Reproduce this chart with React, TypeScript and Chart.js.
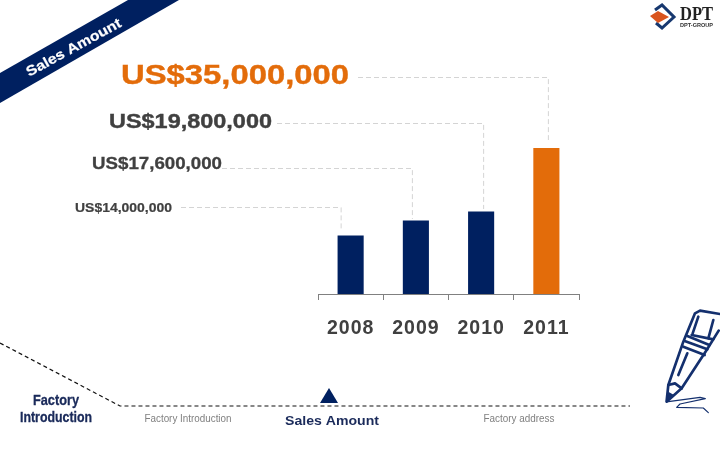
import React, { useEffect, useRef } from "react";
import { Chart, registerables } from "chart.js";

Chart.register(...registerables);

const years = ["2008", "2009", "2010", "2011"];
const salesAmounts = [14000000, 17600000, 19800000, 35000000];
const barColors = ["#002060", "#002060", "#002060", "#E36C0A"];
const bannerTitle = "Sales Amount";
const footerLabels = ["Factory Introduction", "Sales Amount", "Factory address"];
const sideTitle = ["Factory", "Introduction"];

const FONT = '"Liberation Sans", Arial, sans-serif';
const NAVY = "#002060";

type LabelStyle = { size: number; width: number; color: string; x: number; y: number; lineY: number; lineFrom: number; dx: number; lineEnd: number; heavy: number };
const labelStyles: LabelStyle[] = [
  { size: 13.5, width: 97, color: "#404040", x: 75, y: 208, lineY: 207, lineFrom: 181, dx: -9.5, lineEnd: 230, heavy: 0.2 },
  { size: 17, width: 130, color: "#404040", x: 92, y: 164.5, lineY: 168, lineFrom: 222, dx: -3.5, lineEnd: 219, heavy: 0.3 },
  { size: 20.5, width: 163, color: "#404040", x: 109, y: 122.5, lineY: 123, lineFrom: 277, dx: 2.5, lineEnd: 209, heavy: 0.4 },
  { size: 28, width: 228, color: "#E36C0A", x: 121, y: 76.5, lineY: 77, lineFrom: 358, dx: 2, lineEnd: 140, heavy: 0.4 },
];

function setSpacing(ctx: any, px: number) {
  ctx.letterSpacing = px + "px";
}

// Draws text left-aligned or centred, stretched horizontally to the measured width of the reference.
function text(ctx: any, s: string, x: number, y: number, font: string, color: string, width = 0, align = "left", heavy = 0) {
  ctx.save();
  ctx.font = font;
  ctx.fillStyle = color;
  ctx.strokeStyle = color;
  ctx.textAlign = align;
  ctx.textBaseline = "middle";
  const natural = ctx.measureText(s).width;
  ctx.translate(x, y);
  if (width > 0) ctx.scale(width / natural, 1);
  ctx.fillText(s, 0, 0);
  if (heavy > 0) {
    ctx.lineWidth = heavy;
    ctx.strokeText(s, 0, 0);
  }
  ctx.restore();
}

function poly(ctx: any, pts: number[][]) {
  ctx.beginPath();
  pts.forEach((p, i) => (i ? ctx.lineTo(p[0], p[1]) : ctx.moveTo(p[0], p[1])));
}

function drawBanner(ctx: any) {
  poly(ctx, [[0, 73], [128, 0], [179, 0], [0, 103]]);
  ctx.closePath();
  ctx.fillStyle = NAVY;
  ctx.fill();
  ctx.save();
  ctx.translate(74, 48);
  ctx.rotate(-0.5);
  text(ctx, bannerTitle, 0, 0, `bold 14px ${FONT}`, "#ffffff", 106, "center", 0.2);
  ctx.restore();
}

function drawLogo(ctx: any) {
  ctx.strokeStyle = "#17386f";
  ctx.lineWidth = 3;
  poly(ctx, [[655, 10], [662, 5], [674, 17], [662, 28], [656, 23]]);
  ctx.stroke();
  poly(ctx, [[650, 16], [658, 11], [669, 17], [658, 23]]);
  ctx.closePath();
  ctx.fillStyle = "#D9541E";
  ctx.fill();
  text(ctx, "DPT", 680, 15, `bold 19px "Liberation Serif", serif`, "#222222", 33);
  text(ctx, "DPT-GROUP", 680, 26, `bold 5px ${FONT}`, "#333333", 33);
}

function drawPen(ctx: any) {
  ctx.save();
  ctx.translate(600, 300);
  ctx.scale(1 / 3, 1 / 3);
  ctx.strokeStyle = "#14306e";
  ctx.lineJoin = "round";
  ctx.lineCap = "round";
  ctx.lineWidth = 8;
  const lines = [
    [[200, 302], [205, 255], [250, 125], [285, 40], [300, 32], [360, 42]],
    [[356, 92], [320, 150], [245, 265], [200, 305]],
    [[205, 255], [225, 250], [245, 265]],
    [[295, 50], [278, 100]],
    [[340, 60], [325, 115]],
    [[262, 108], [328, 135]],
    [[256, 124], [322, 148]],
    [[250, 140], [314, 165]],
    [[275, 105], [340, 118]],
    [[262, 160], [235, 225]],
  ];
  lines.forEach((l) => { poly(ctx, l); ctx.stroke(); });
  ctx.lineWidth = 3.5;
  poly(ctx, [[205, 305], [300, 292], [316, 296], [240, 312], [230, 322], [310, 324], [325, 338]]);
  ctx.stroke();
  ctx.beginPath();
  ctx.moveTo(200, 305); ctx.lineTo(205, 275); ctx.lineTo(222, 285);
  ctx.closePath();
  ctx.fillStyle = "#14306e";
  ctx.fill();
  ctx.restore();
}

function drawFooter(ctx: any) {
  ctx.strokeStyle = "#111111";
  ctx.lineWidth = 1.2;
  ctx.setLineDash([4, 3]);
  poly(ctx, [[0, 343], [120, 406], [630, 406]]);
  ctx.stroke();
  ctx.setLineDash([]);
  poly(ctx, [[329, 388], [338, 403], [320, 403]]);
  ctx.closePath();
  ctx.fillStyle = NAVY;
  ctx.fill();
  const navyText = "#1a2a5a";
  text(ctx, sideTitle[0], 56, 401.5, `bold 14px ${FONT}`, navyText, 46, "center", 0.3);
  text(ctx, sideTitle[1], 56, 418.5, `bold 14px ${FONT}`, navyText, 72, "center", 0.3);
  text(ctx, footerLabels[0], 188, 419, `10px ${FONT}`, "#808080", 87, "center");
  text(ctx, footerLabels[1], 332, 421.5, `bold 13px ${FONT}`, navyText, 94, "center");
  text(ctx, footerLabels[2], 519, 419, `10px ${FONT}`, "#808080", 71, "center");
}

const spacingPlugin = {
  id: "tickSpacing",
  beforeDraw(chart: any) { setSpacing(chart.ctx, 1); },
  afterDatasetsDraw(chart: any) { setSpacing(chart.ctx, 0); },
};

const overlayPlugin = {
  id: "overlay",
  afterDraw(chart: any) {
    const ctx = chart.ctx;
    const x = chart.scales.x;
    ctx.save();
    drawBanner(ctx);
    drawLogo(ctx);
    salesAmounts.forEach((v, i) => {
      const s = labelStyles[i];
      const lx = x.getPixelForValue(i) + s.dx;
      ctx.strokeStyle = "#d4d4d4";
      ctx.lineWidth = 1;
      ctx.setLineDash([5, 3]);
      poly(ctx, [[s.lineFrom, s.lineY + 0.5], [lx, s.lineY + 0.5], [lx, s.lineEnd]]);
      ctx.stroke();
      ctx.setLineDash([]);
      text(ctx, "US$" + v.toLocaleString("en-US"), s.x, s.y, `bold ${s.size}px ${FONT}`, s.color, s.width, "left", s.heavy);
    });
    drawFooter(ctx);
    drawPen(ctx);
    ctx.restore();
  },
};

export default function App() {
  const ref = useRef<HTMLCanvasElement | null>(null);
  useEffect(() => {
    document.body.style.margin = "0";
    document.body.style.background = "#ffffff";
    const chart = new Chart(ref.current as HTMLCanvasElement, {
      type: "bar",
      data: {
        labels: years,
        datasets: [{
          data: salesAmounts,
          backgroundColor: barColors,
          barPercentage: 0.4,
          categoryPercentage: 1,
        }],
      },
      options: {
        animation: false,
        responsive: false,
        devicePixelRatio: 1,
        layout: { padding: { left: 318, right: 141, top: 148, bottom: 0 } },
        plugins: { legend: { display: false }, title: { display: false }, tooltip: { enabled: false } },
        scales: {
          y: { display: false, min: 0, max: 35000000 },
          x: {
            afterFit(scale: any) { scale.height = 156; },
            border: { color: "#808080", width: 1 },
            grid: { offset: true, drawOnChartArea: false, drawTicks: true, tickLength: 6, color: "#808080" },
            ticks: {
              autoSkip: false,
              maxRotation: 0,
              padding: 17,
              color: "#404040",
              font: { family: FONT, size: 19.5, weight: "bold" },
            },
          },
        },
      },
      plugins: [spacingPlugin, overlayPlugin],
    } as any);
    return () => chart.destroy();
  }, []);
  return (
    <div style={{ width: 720, height: 450 }}>
      <canvas ref={ref} width={720} height={450} style={{ display: "block" }} />
    </div>
  );
}
